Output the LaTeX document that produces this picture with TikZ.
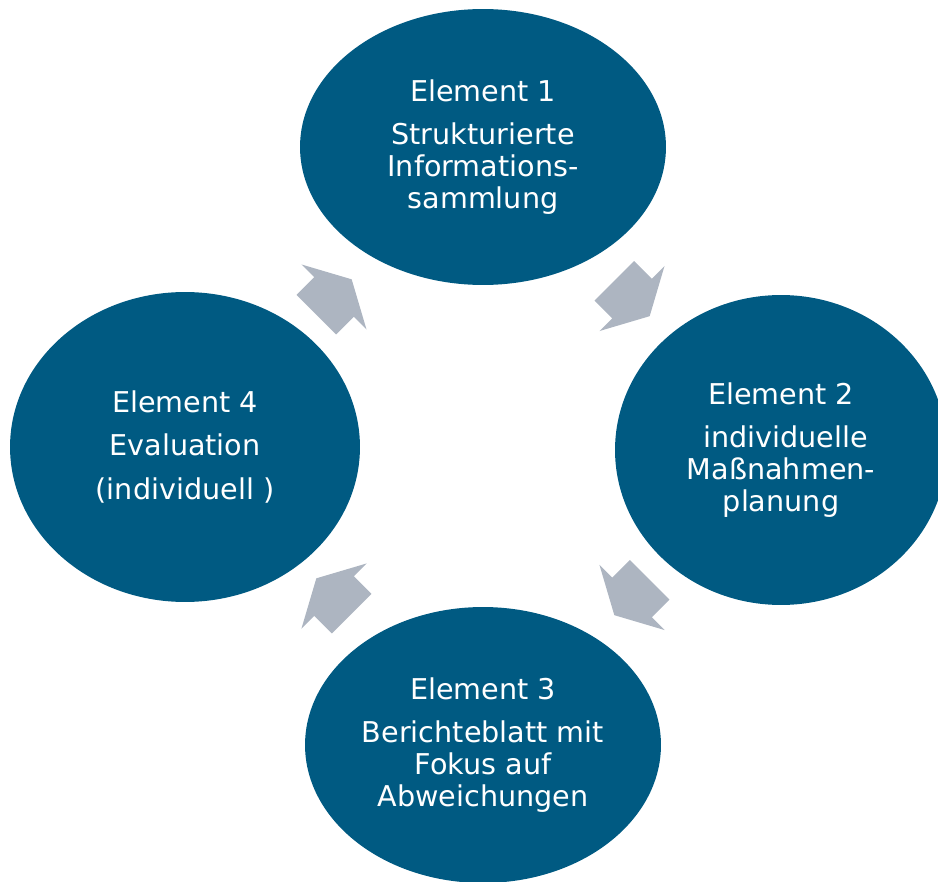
\documentclass[tikz,border=0pt]{standalone}
\usepackage{fontspec}
\setmainfont{DejaVu Sans}
\usepackage{xcolor}
\usetikzlibrary{calc,positioning,shapes.geometric}

\definecolor{cycleblue}{RGB}{0,90,130}
\definecolor{arrowgray}{RGB}{173,181,193}

\tikzset{
	element/.style={ellipse,fill=cycleblue,text=white,inner sep=0pt,align=center,
		font=\fontsize{16.3}{18}\selectfont},
	cyclearrow/.style={fill=arrowgray}
}

\begin{document}
\begin{tikzpicture}[x=0.02cm,y=-0.02cm]
		\useasboundingbox (0,0) rectangle (938,882);
		\node[element,minimum width=7.32cm,minimum height=5.52cm] (e1) at (483,147) {Element 1\\[6.5pt]Strukturierte\\Informations-\\sammlung};
		\node[element,minimum width=6.64cm,minimum height=6.2cm] (e2) at (781,450) {Element 2\\[6.5pt]\ individuelle\\Maßnahmen-\\planung};
		\node[element,minimum width=7.12cm,minimum height=5.52cm] (e3) at (483,745) {Element 3\\[6.5pt]Berichteblatt mit\\Fokus auf\\Abweichungen};
		\node[element,minimum width=7cm,minimum height=6.2cm] (e4) at (185,447) {Element 4\\[6.5pt]Evaluation\\[6.5pt](individuell )};
		\foreach \a/\b/\ang in {e1/e2/-45,e2/e3/-135,e3/e4/135,e4/e1/45}
			\fill[cyclearrow,shift={($(\a)!0.5!(\b)$)},rotate=\ang] (-25,-28) -- (0,-28) -- (0,-46) -- (25,0) -- (0,46) -- (0,28) -- (-25,28) -- cycle;
		\end{tikzpicture}
\end{document}
